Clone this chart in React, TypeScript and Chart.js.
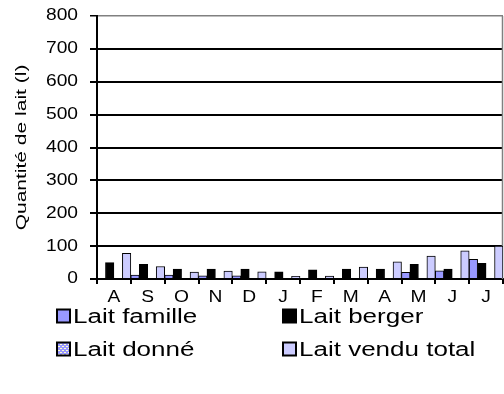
import React, { useEffect, useRef } from "react";
import { Chart, registerables } from "chart.js";

Chart.register(...registerables);

// ---- data ----
const MONTHS = ["A", "S", "O", "N", "D", "J", "F", "M", "A", "M", "J", "J"];
const LAIT_FAMILLE = [0, 12, 12, 10, 10, 0, 0, 0, 0, 20, 25, 60];
const LAIT_BERGER = [50, 45, 30, 30, 30, 22, 28, 30, 30, 45, 30, 48];
const LAIT_DONNE = [0, 0, 0, 0, 0, 0, 0, 0, 0, 0, 0, 0];
const LAIT_VENDU_TOTAL = [78, 38, 21, 24, 22, 8, 9, 36, 52, 70, 86, 100];
const SERIES_NAMES = ["Lait famille", "Lait berger", "Lait donné", "Lait vendu total"];
const Y_MIN = 0;
const Y_MAX = 800;
const Y_STEP = 100;
const Y_TITLE = "Quantité de lait (l)";

const FONT = '"Liberation Sans", Arial, sans-serif';

function makePattern(ctx: CanvasRenderingContext2D): CanvasPattern | string {
  const c = document.createElement("canvas");
  c.width = 4;
  c.height = 4;
  const g = c.getContext("2d");
  if (!g) return "#9999FF";
  g.fillStyle = "#9999FF";
  g.fillRect(0, 0, 4, 4);
  g.fillStyle = "#FFFFCC";
  g.fillRect(0, 0, 2, 1);
  g.fillRect(2, 2, 2, 1);
  return ctx.createPattern(c, "repeat") || "#9999FF";
}

function drawText(
  ctx: CanvasRenderingContext2D,
  text: string,
  x: number,
  y: number,
  sx: number,
  align: CanvasTextAlign
) {
  ctx.save();
  ctx.translate(x, y);
  ctx.scale(sx, 1);
  ctx.textAlign = align;
  ctx.fillText(text, 0, 0);
  ctx.restore();
}

export default function App() {
  const ref = useRef<HTMLCanvasElement>(null);

  useEffect(() => {
    document.body.style.margin = "0";
    const canvas = ref.current;
    if (!canvas) return;
    const c2d = canvas.getContext("2d")!;
    const pattern = makePattern(c2d);
    const fills: any[] = ["#9999FF", "#000000", pattern, "#CCCCFF"];

    const textPlugin = {
      id: "customText",
      beforeDatasetsDraw(chart: any) {
        const { ctx, chartArea } = chart;
        ctx.save();
        ctx.strokeStyle = "#808080";
        ctx.lineWidth = 1.5;
        ctx.beginPath();
        ctx.moveTo(chartArea.right - 0.5, chartArea.top);
        ctx.lineTo(chartArea.right - 0.5, chartArea.bottom);
        ctx.stroke();
        ctx.restore();
      },
      afterDraw(chart: any) {
        const { ctx, chartArea } = chart;
        const ys = chart.scales.y;
        const xs = chart.scales.x;
        ctx.save();
        ctx.fillStyle = "#000";
        ctx.textBaseline = "middle";
        ctx.font = `16px ${FONT}`;
        ys.ticks.forEach((t: any) => {
          drawText(ctx, String(t.value), 78, ys.getPixelForValue(t.value), 1.2, "right");
        });
        (chart.data.labels as string[]).forEach((l, i) => {
          drawText(ctx, l, xs.getPixelForValue(i), 298, 1.2, "center");
        });
        // y title
        ctx.save();
        ctx.translate(22, (chartArea.top + chartArea.bottom) / 2);
        ctx.rotate(-Math.PI / 2);
        ctx.font = `15px ${FONT}`;
        drawText(ctx, Y_TITLE, 0, 0, 1.4, "center");
        ctx.restore();
        // legend
        const cols = [57, 283];
        const rows = [316, 349];
        const order = [0, 1, 2, 3];
        ctx.font = `20px ${FONT}`;
        order.forEach((di, k) => {
          const ds = chart.data.datasets[di];
          const bx = cols[k % 2];
          const by = rows[Math.floor(k / 2)];
          ctx.fillStyle = fills[di];
          ctx.fillRect(bx, by - 6.5, 13, 13);
          ctx.strokeStyle = "#000";
          ctx.lineWidth = 2;
          ctx.strokeRect(bx, by - 6.5, 13, 13);
          ctx.fillStyle = "#000";
          drawText(ctx, ds.label, bx + 16, by + 1, 1.3, "left");
        });
        ctx.restore();
      },
    };

    const seriesValues = [LAIT_FAMILLE, LAIT_BERGER, LAIT_DONNE, LAIT_VENDU_TOTAL];

    const chart = new Chart(canvas, {
      type: "bar",
      data: {
        labels: MONTHS,
        datasets: seriesValues.map((vals, i) => ({
          label: SERIES_NAMES[i],
          data: vals,
          backgroundColor: fills[i],
          borderColor: "#000000",
          borderWidth: 1,
          categoryPercentage: 1,
          barPercentage: 1,
        })),
      },
      options: {
        animation: false,
        responsive: false,
        devicePixelRatio: 1,
        layout: { padding: { left: 0, top: 16, right: 1, bottom: 0 } },
        plugins: {
          legend: { display: false },
          tooltip: { enabled: false },
          title: { display: false },
        },
        scales: {
          x: {
            type: "category",
            offset: true,
            ticks: { display: false },
            grid: {
              offset: true,
              drawOnChartArea: false,
              drawTicks: true,
              tickLength: 5,
              color: "#000",
              lineWidth: 2,
            },
            border: { display: true, color: "#000", width: 2 },
            afterFit: (s: any) => {
              s.height = 394 - 279;
            },
          },
          y: {
            min: Y_MIN,
            max: Y_MAX,
            ticks: { display: false, stepSize: Y_STEP },
            grid: {
              color: (c: any) => (c.tick && c.tick.value === Y_MAX ? "#808080" : "#000"),
              lineWidth: (c: any) => (c.tick && c.tick.value === Y_MAX ? 1.5 : 2),
              tickColor: "#000",
              tickLength: 7,
              drawTicks: true,
            },
            border: { display: true, color: "#000", width: 2 },
            afterFit: (s: any) => {
              s.width = 97;
            },
          },
        },
      },
      plugins: [textPlugin],
    } as any);

    return () => chart.destroy();
  }, []);

  return (
    <div style={{ width: 504, height: 394 }}>
      <canvas ref={ref} width={504} height={394} style={{ display: "block", width: 504, height: 394 }} />
    </div>
  );
}
